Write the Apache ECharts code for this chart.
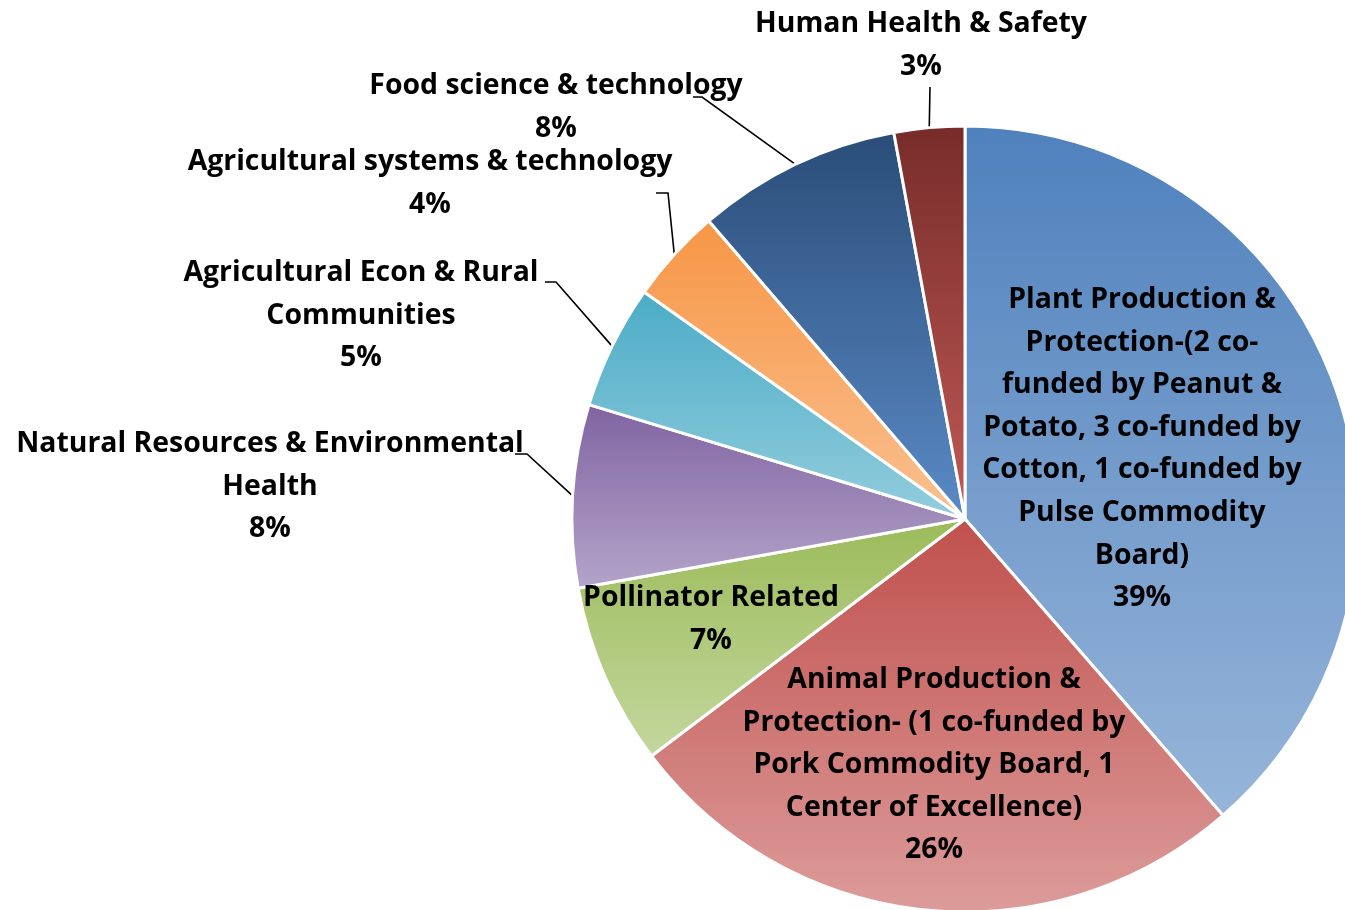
<!DOCTYPE html>
<html>
<head>
<meta charset="utf-8">
<script src="https://cdn.jsdelivr.net/npm/echarts@6/dist/echarts.min.js"></script>
<style>
html,body{margin:0;padding:0;background:#fff;}
#chart{width:1345px;height:910px;}
</style>
</head>
<body>
<div id="chart"></div>
<script>
// Categories (display text, wrapped as in the original), clockwise from 12 o'clock
const categories = [
  "Plant Production &\nProtection-(2 co-\nfunded by Peanut &\nPotato, 3 co-funded by\nCotton, 1 co-funded by\nPulse Commodity\nBoard)",
  "Animal Production &\nProtection- (1 co-funded by\nPork Commodity Board, 1\nCenter of Excellence)",
  "Pollinator Related",
  "Natural Resources & Environmental\nHealth",
  "Agricultural Econ & Rural\nCommunities",
  "Agricultural systems & technology",
  "Food science & technology",
  "Human Health & Safety"
];
// Share of projects (%)
const shares = [38.6, 26.1, 7.48, 7.52, 5.1, 3.9, 8.4, 2.9];

// Styles
const topColors    = ["#4f81bd", "#c0504d", "#9bbb59", "#8064a2", "#4bacc6", "#f79646", "#2a4d78", "#772c2a"];
const bottomColors = ["#97b5d9", "#dc9c9a", "#c4d79e", "#b4a4c9", "#93cddd", "#fac090", "#5a8ac6", "#c05a56"];
const insideLabel  = [true, true, true, false, false, false, false, false];

// Label anchor (center x, first-line center y) and leader elbows
const labelPos = [
  [1142, 300], [934, 680], [711, 598], [270, 444],
  [361, 273], [430, 162], [556, 86], [921, 24]
];
const leaderElbows = [
  null, null, null,
  [[527, 454], [515, 454]],
  [[556, 282], [545, 282]],
  [[668, 193], [656, 193]],
  [[702, 97], [693, 97]],
  [[930, 87]]
];

const LH = 42.6;
const FONT = '"Open Sans", "Noto Sans", sans-serif';

const chart = echarts.init(document.getElementById('chart'), null, {renderer: 'canvas'});

const data = categories.map((name, i) => ({
  name: name,
  value: shares[i],
  itemStyle: {
    color: new echarts.graphic.LinearGradient(0, 0, 0, 1, [
      {offset: 0, color: topColors[i]},
      {offset: 1, color: bottomColors[i]}
    ])
  },
  labelLine: {show: !insideLabel[i]}
}));

chart.setOption({
  animation: false,
  backgroundColor: '#ffffff',
  series: [{
    type: 'pie',
    center: [965, 519],
    radius: 393,
    startAngle: 90,
    clockwise: true,
    avoidLabelOverlap: false,
    itemStyle: {borderColor: '#ffffff', borderWidth: 3},
    label: {
      show: true,
      position: 'outside',
      color: '#000',
      fontFamily: FONT,
      fontWeight: 'bold',
      fontSize: 28.4,
      lineHeight: LH,
      align: 'center',
      formatter: p => p.name + '\n' + Math.round(p.value) + '%'
    },
    labelLine: {
      show: true,
      lineStyle: {color: '#000', width: 1.6}
    },
    emphasis: {disabled: true},
    labelLayout: function (p) {
      const i = p.dataIndex;
      const pos = labelPos[i];
      const res = {x: pos[0], y: pos[1] - LH / 2, align: 'center', verticalAlign: 'top'};
      if (leaderElbows[i] && p.labelLinePoints) {
        const e = p.labelLinePoints[0];
        res.labelLinePoints = [e].concat(leaderElbows[i]);
      }
      return res;
    },
    data: data
  }]
});
</script>
</body>
</html>
